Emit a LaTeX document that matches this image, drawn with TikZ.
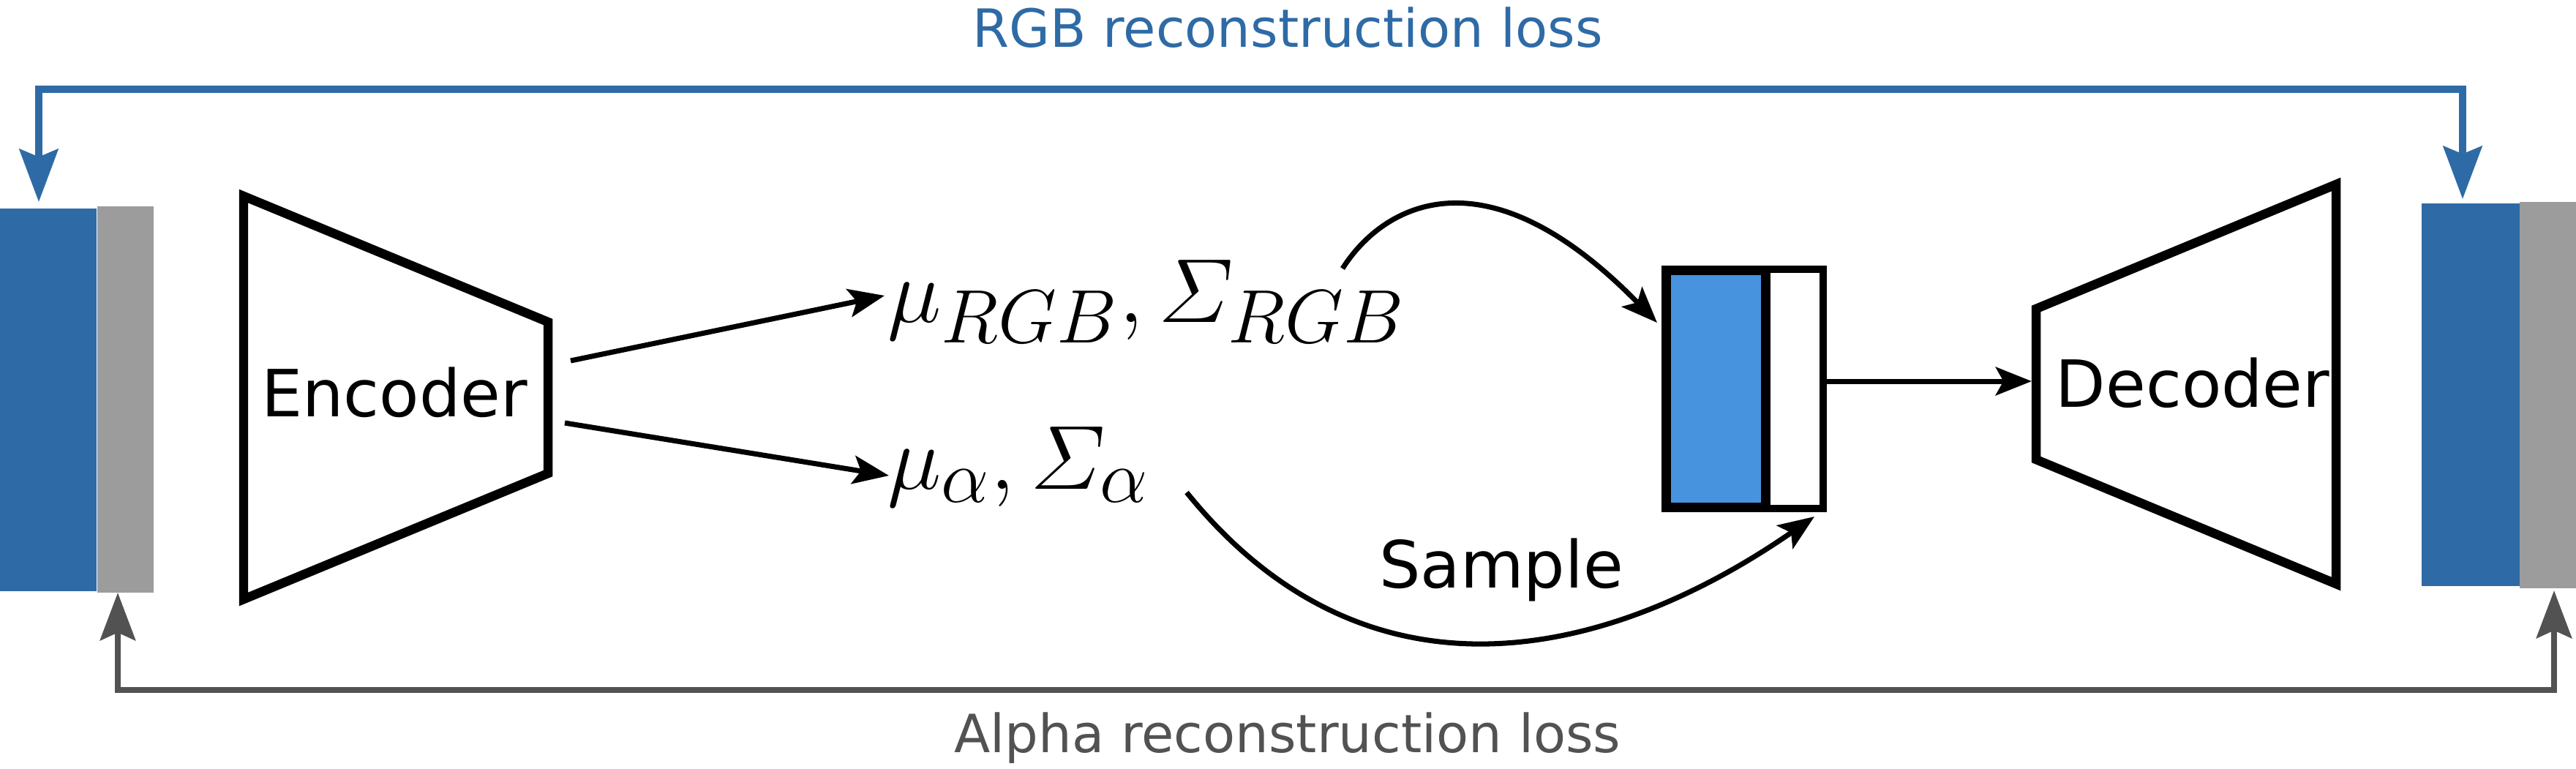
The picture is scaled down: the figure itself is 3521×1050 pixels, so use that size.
\documentclass[tikz,border=0pt]{standalone}
\usepackage{fontspec}
\setmainfont{DejaVu Sans}
\usepackage{amsmath}
\usepackage{tikz}
\usetikzlibrary{arrows.meta}
\definecolor{rgbblue}{HTML}{2E6BA6}
\definecolor{latblue}{HTML}{4793DD}
\definecolor{bargray}{HTML}{9C9C9C}
\definecolor{lossgray}{HTML}{525252}

\begin{document}
\begin{tikzpicture}[x=0.01cm, y=-0.01cm,
  bar/.style={inner sep=0pt, outer sep=0pt},
  lbl/.style={inner sep=0pt, font=\fontsize{25.3}{30}\selectfont},
  losslbl/.style={inner sep=0pt, font=\fontsize{20.5}{24}\selectfont},
  mth/.style={inner sep=0pt, scale=1.42, font=\fontsize{24.88}{30}\selectfont},
  net/.style={draw, line width=3.55pt},
  arr/.style={-{Stealth[length=14pt, width=11pt, inset=3pt]}, line width=2pt},
  rgbloss/.style={{Stealth[length=20.5pt, width=15pt, inset=3pt]}-{Stealth[length=20.5pt, width=15pt, inset=3pt]}, draw=rgbblue, line width=2.7pt},
  alphaloss/.style={{Stealth[length=18.5pt, width=13.7pt, inset=3pt]}-{Stealth[length=18.5pt, width=13.7pt, inset=3pt]}, draw=lossgray, line width=2.4pt}]
  \useasboundingbox (0,0) rectangle (3521,1050);
  % input and reconstructed image (rgb + alpha)
  \node[bar, fill=rgbblue, minimum width=1.32cm, minimum height=5.23cm] (inrgb) at (66,546.5) {};
  \node[bar, fill=bargray, minimum width=0.77cm, minimum height=5.28cm] (inalpha) at (171.5,546) {};
  \node[bar, fill=rgbblue, minimum width=1.34cm, minimum height=5.23cm] (outrgb) at (3377,539.5) {};
  \node[bar, fill=bargray, minimum width=0.77cm, minimum height=5.28cm] (outalpha) at (3482.5,540) {};
  % encoder / decoder
  \draw[net] (333,268) -- (749,440) -- (749,647) -- (333,819) -- cycle;
  \node[lbl, anchor=base] (enc) at (539,569) {Encoder};
  \draw[net] (2783,422) -- (3193,252) -- (3193,798) -- (2783,628) -- cycle;
  \node[lbl, anchor=base] (dec) at (2997,556) {Decoder};
  % latent code
  \node[draw, line width=2.85pt, inner sep=0pt, minimum width=0.79cm, minimum height=3.27cm] (latw) at (2452.5,531.5) {};
  \node[draw, fill=latblue, line width=3.7pt, inner sep=0pt, minimum width=1.36cm, minimum height=3.24cm] (latb) at (2345.5,531.5) {};
  % distributions
  \node[mth, anchor=base west] (murgb) at (1212,440) {$\mu_{RGB}, \varSigma_{RGB}$};
  \node[mth, anchor=base west] (mualpha) at (1212,668) {$\mu_{\alpha}, \varSigma_{\alpha}$};
  \node[lbl, anchor=base] (sample) at (2052,803) {Sample};
  \coordinate (encrgb) at (780,493);
  \coordinate (encalpha) at (772,578);
  \coordinate (murgbin) at (1209,404);
  \coordinate (mualphain) at (1215,650);
  \coordinate (rgbout) at (1835,367);
  \coordinate (alphaout) at (1622,673);
  \coordinate (latin) at (2265,441);
  \coordinate (latin2) at (2480,706);
  \coordinate (decin) at (2777,521);
  \draw[arr] (encrgb) -- (murgbin);
  \draw[arr] (encalpha) -- (mualphain);
  \draw[arr] (rgbout) .. controls (1890,280) and (2030,200) .. (latin);
  \draw[arr] (alphaout) .. controls (1870,980) and (2200,900) .. (latin2);
  \draw[arr] (latw.east |- decin) -- (decin);
  % losses
  \coordinate (rgbl) at (53,276);
  \coordinate (rgbr) at (3366,272);
  \coordinate (rgbtop) at (1760,122);
  \coordinate (alphal) at (161,810);
  \coordinate (alphar) at (3491,807);
  \coordinate (alphabot) at (1760,943);
  \draw[rgbloss] (rgbl) |- (rgbtop) -| (rgbr);
  \draw[alphaloss] (alphal) |- (alphabot) -| (alphar);
  \node[losslbl, text=rgbblue, anchor=base] (rgblbl) at (1760,64) {RGB reconstruction loss};
  \node[losslbl, text=lossgray, anchor=base] (alphalbl) at (1760,1028) {Alpha reconstruction loss};
\end{tikzpicture}
\end{document}
